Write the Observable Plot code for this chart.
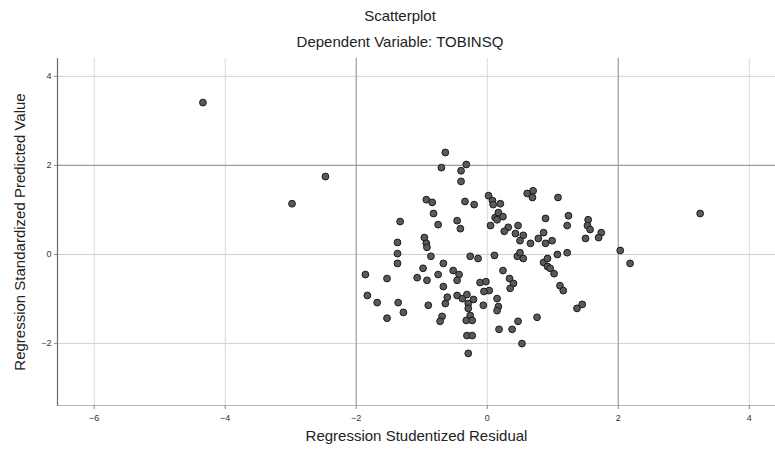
<!DOCTYPE html>
<html><head><meta charset="utf-8">
<script src="https://cdn.jsdelivr.net/npm/d3@7"></script>
<script src="https://cdn.jsdelivr.net/npm/@observablehq/plot@0.6"></script>
<style>
body{margin:0;background:#fff;font-family:"Liberation Sans",Arial,sans-serif;}
#wrap{width:775px;height:453px;position:relative;overflow:hidden;}
#head{position:relative;height:52px;}
.t{position:absolute;left:25px;right:0;text-align:center;color:#222;font-size:15px;line-height:17px;white-space:nowrap;}
</style></head>
<body><div id="wrap">
<div id="head"><div class="t" id="title" style="top:7px"></div><div class="t" id="sub" style="top:33px"></div></div>
<div id="chart"></div>
</div>
<script>
const titleText = "Scatterplot";
const subtitleText = "Dependent Variable: TOBINSQ";
const xLabel = "Regression Studentized Residual";
const yLabel = "Regression Standardized Predicted Value";
const xTicks = [-6, -4, -2, 0, 2, 4];
const yTicks = [-2, 0, 2, 4];
// studentized residuals
const residual = [
 -4.34,-2.98,-2.47,3.25,
 -0.64,-0.70,-0.40,-0.32,-0.40,-0.93,-0.84,-0.82,-0.75,-1.33,-0.46,-0.41,-0.34,-0.20,0.02,0.08,0.09,0.12,0.05,-1.37,-0.96,-0.93,
 0.61,0.70,0.69,1.08,0.20,0.17,0.24,0.15,0.89,1.24,1.22,1.54,1.53,1.57,1.74,1.70,1.50,0.32,0.47,0.43,0.55,0.50,0.66,0.78,0.86,0.89,0.99,0.26,
 -1.37,-1.37,-0.92,-0.86,-0.67,-0.98,-0.92,-1.07,-0.75,-0.67,-0.52,-0.43,-0.46,-0.26,-0.14,0.11,-1.86,-1.53,-0.11,-0.02,0.03,-0.05,
 0.46,0.55,0.50,0.86,0.92,0.92,0.96,1.07,1.22,0.24,0.34,0.40,0.35,1.02,1.11,1.16,2.03,2.18,
 0.15,0.17,0.15,-1.83,-1.68,-1.36,-1.28,-1.53,-0.90,-0.61,-0.64,-0.46,-0.38,-0.31,-0.21,-0.29,-0.06,-0.29,-0.26,-0.32,-0.23,-0.69,-0.72,-0.31,-0.23,-0.29,
 0.76,1.37,1.45,0.47,0.18,0.38,0.53
];
// standardized predicted values
const predicted = [
 3.41,1.14,1.75,0.92,
 2.29,1.95,1.88,2.02,1.64,1.23,1.17,0.92,0.67,0.74,0.76,0.58,1.19,1.12,1.32,1.21,1.12,0.83,0.65,0.27,0.38,0.25,
 1.37,1.43,1.28,1.28,1.14,0.94,0.85,0.78,0.81,0.87,0.65,0.78,0.65,0.56,0.49,0.38,0.36,0.61,0.65,0.47,0.43,0.31,0.25,0.36,0.49,0.25,0.31,0.52,
 0.02,-0.20,0.16,-0.04,-0.20,-0.31,-0.58,-0.52,-0.45,-0.72,-0.36,-0.45,-0.58,-0.04,-0.09,-0.02,-0.45,-0.54,-0.63,-0.61,-0.81,-0.83,
 -0.04,-0.09,0.04,-0.18,-0.09,-0.27,-0.31,0.00,0.04,-0.36,-0.54,-0.65,-0.76,-0.43,-0.70,-0.81,0.09,-0.20,
 -0.99,-1.17,-1.26,-0.92,-1.08,-1.08,-1.30,-1.43,-1.14,-0.96,-1.10,-0.92,-0.99,-0.90,-1.01,-1.10,-1.14,-1.21,-1.37,-1.48,-1.48,-1.39,-1.50,-1.82,-1.82,-2.22,
 -1.41,-1.21,-1.12,-1.50,-1.68,-1.68,-2.00
];
const points = residual.map((x, i) => ({x, y: predicted[i]}));

document.getElementById("title").textContent = titleText;
document.getElementById("sub").textContent = subtitleText;

const font = "'Liberation Sans', Arial, sans-serif";
const chart = Plot.plot({
  width: 775, height: 401,
  marginTop: 6, marginLeft: 57, marginRight: 0, marginBottom: 48,
  x: {domain: [-6.56, 4.4]},
  y: {domain: [-3.39, 4.4]},
  style: {fontFamily: font, background: "#fff", color: "#333"},
  marks: [
    Plot.ruleX(xTicks, {filter: d => Math.abs(d) !== 2, stroke: "#dadada", strokeWidth: 1}),
    Plot.ruleY(yTicks, {filter: d => d !== 2, stroke: "#d0d0d0", strokeWidth: 1}),
    Plot.ruleX(xTicks, {filter: d => Math.abs(d) === 2, stroke: "#9c9c9c", strokeWidth: 1.2}),
    Plot.ruleY(yTicks, {filter: d => d === 2, stroke: "#9c9c9c", strokeWidth: 1.2}),
    Plot.frame({anchor: "bottom", stroke: "#b8b8b8"}),
    Plot.frame({anchor: "left", stroke: "#6a6a6a", strokeWidth: 1.2}),
    Plot.axisX(xTicks, {tickSize: 4, tickPadding: 5, fontSize: 9, label: null, stroke: "#888"}),
    Plot.axisY(yTicks, {tickSize: 3, tickPadding: 3, fontSize: 9, label: null, stroke: "#888"}),
    Plot.text([xLabel], {text: d => d, frameAnchor: "bottom", textAnchor: "middle", dy: 35, fontSize: 15, fill: "#222"}),
    Plot.text([yLabel], {text: d => d, frameAnchor: "left", textAnchor: "middle", rotate: -90, dx: -37, fontSize: 15, fill: "#222"}),
    Plot.dot(points, {x: "x", y: "y", r: 3.4, fill: "#5a5a5a", stroke: "#1a1a1a", strokeWidth: 1})
  ]
});
document.getElementById("chart").appendChild(chart);
</script>
</body></html>
